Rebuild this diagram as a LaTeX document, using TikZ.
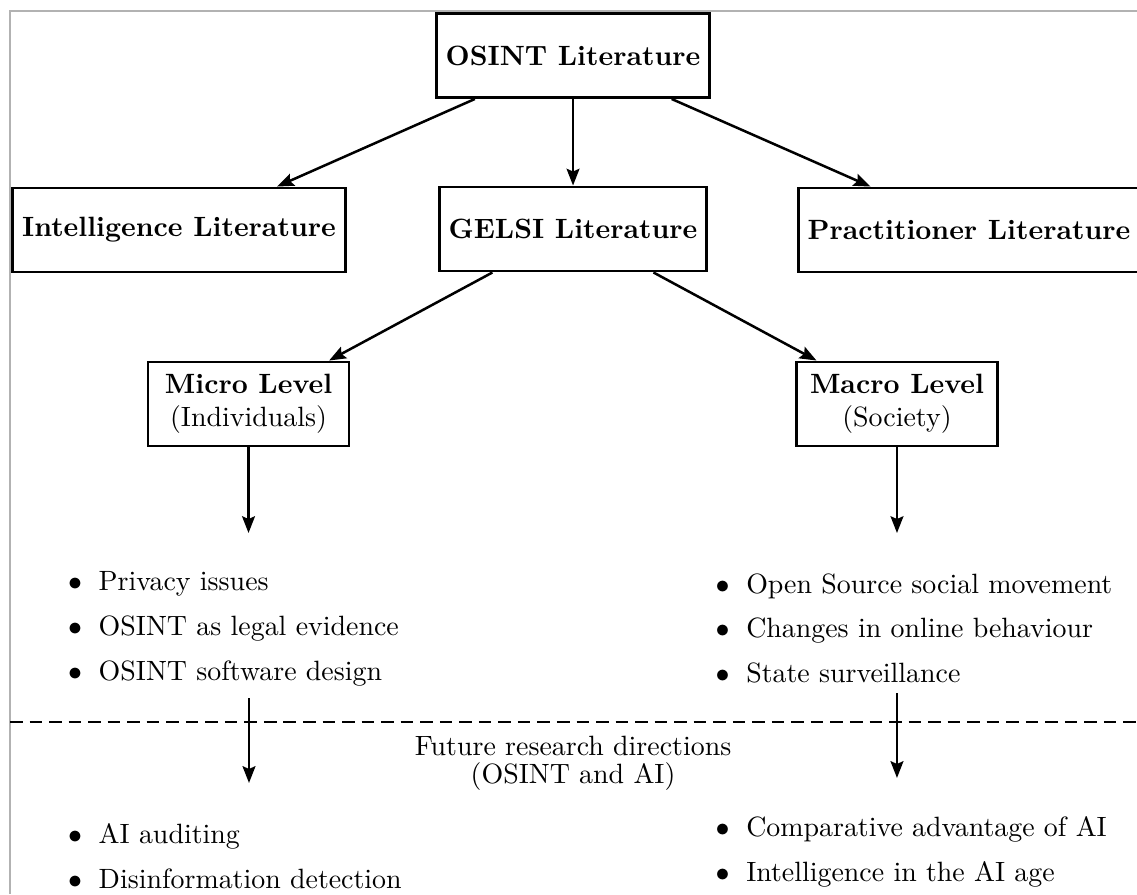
\documentclass[tikz,border=0pt]{standalone}
\usepackage{tikz}
\usetikzlibrary{positioning, arrows.meta, calc}
\tikzset{
  lit/.style   = {draw, rectangle, line width=1pt,
                  minimum height=1.06cm, inner sep=0.3333em,
                  font=\bfseries, align=center},
  level/.style = {draw, rectangle, line width=1pt,
                  minimum width=2.53cm, minimum height=1.06cm,
                  align=center},
  items/.style = {inner sep=0pt, align=left, anchor=west},
  arr/.style   = {-{Stealth[length=6pt, width=4.6pt, inset=1pt]}, line width=0.9pt},
  divider/.style = {dash pattern=on 4.5pt off 2.5pt, line width=1pt},
}
\newcommand{\listdot}{$\bullet$\hspace{0.6em}}

\begin{document}
\begin{tikzpicture}

% ────────────────────────────────────────────────────────────
%  Frame: 14.32 x 11.26 cm, origin at top left
%   literature row : y = -2.90
%   level row      : y = -5.09
%   divider        : y = -9.09
% ────────────────────────────────────────────────────────────
\useasboundingbox (0,0) rectangle (14.32,-11.26);
\draw[gray!60, line width=0.4pt] (0.126,-11.26) -- (0.126,-0.139) -- (14.32,-0.139);

% ═══════════════════════════════════════════════════════════
%  LITERATURE
% ═══════════════════════════════════════════════════════════
\node[lit] (osint) at (7.217, -0.699) {OSINT Literature};

\node[lit] (intel) at (2.254, -2.897) {Intelligence Literature};
\node[lit] (gelsi) at (7.217, -2.884) {GELSI Literature};
\node[lit] (pract) at (12.204, -2.897) {Practitioner Literature};

\draw[arr] (osint) -- (intel);
\draw[arr] (osint) -- (gelsi);
\draw[arr] (osint) -- (pract);

% ═══════════════════════════════════════════════════════════
%  LEVELS
% ═══════════════════════════════════════════════════════════
\node[level] (micro) at (3.130, -5.088)
  {\textbf{Micro Level}\\(Individuals)};
\node[level] (macro) at (11.297, -5.088)
  {\textbf{Macro Level}\\(Society)};

\draw[arr] (gelsi) -- (micro);
\draw[arr] (gelsi) -- (macro);

\coordinate (micro-end) at (3.130, -6.713);
\coordinate (macro-end) at (11.297, -6.713);
\draw[arr] (micro.south) -- (micro-end);
\draw[arr] (macro.south) -- (macro-end);

\node[items] (micro-list) at (0.850, -7.915)
  {\listdot Privacy issues\\[4.1pt]
   \listdot OSINT as legal evidence\\[4.1pt]
   \listdot OSINT software design};
\node[items] (macro-list) at (9.005, -7.915)
  {\listdot Open Source social movement\\[4.1pt]
   \listdot Changes in online behaviour\\[4.1pt]
   \listdot State surveillance};

% ═══════════════════════════════════════════════════════════
%  FUTURE RESEARCH
% ═══════════════════════════════════════════════════════════
\coordinate (div-l) at (0.126, -9.093);
\coordinate (div-r) at (14.32, -9.093);
\draw[divider] (div-l) -- (div-r);

\node[align=center] (future) at (7.217, -9.61)
  {Future research directions\\[-2pt](OSINT and AI)};

\coordinate (micro-a) at (3.136, -8.791);
\coordinate (micro-b) at (3.136, -9.861);
\coordinate (macro-a) at (11.297, -8.728);
\coordinate (macro-b) at (11.297, -9.798);
\draw[arr] (micro-a) -- (micro-b);
\draw[arr] (macro-a) -- (macro-b);

\node[items] (micro-ai) at (0.850, -10.78)
  {\listdot AI auditing\\[4.1pt]
   \listdot Disinformation detection};
\node[items] (macro-ai) at (9.005, -10.73)
  {\listdot Comparative advantage of AI\\[4.1pt]
   \listdot Intelligence in the AI age};

\end{tikzpicture}
\end{document}
